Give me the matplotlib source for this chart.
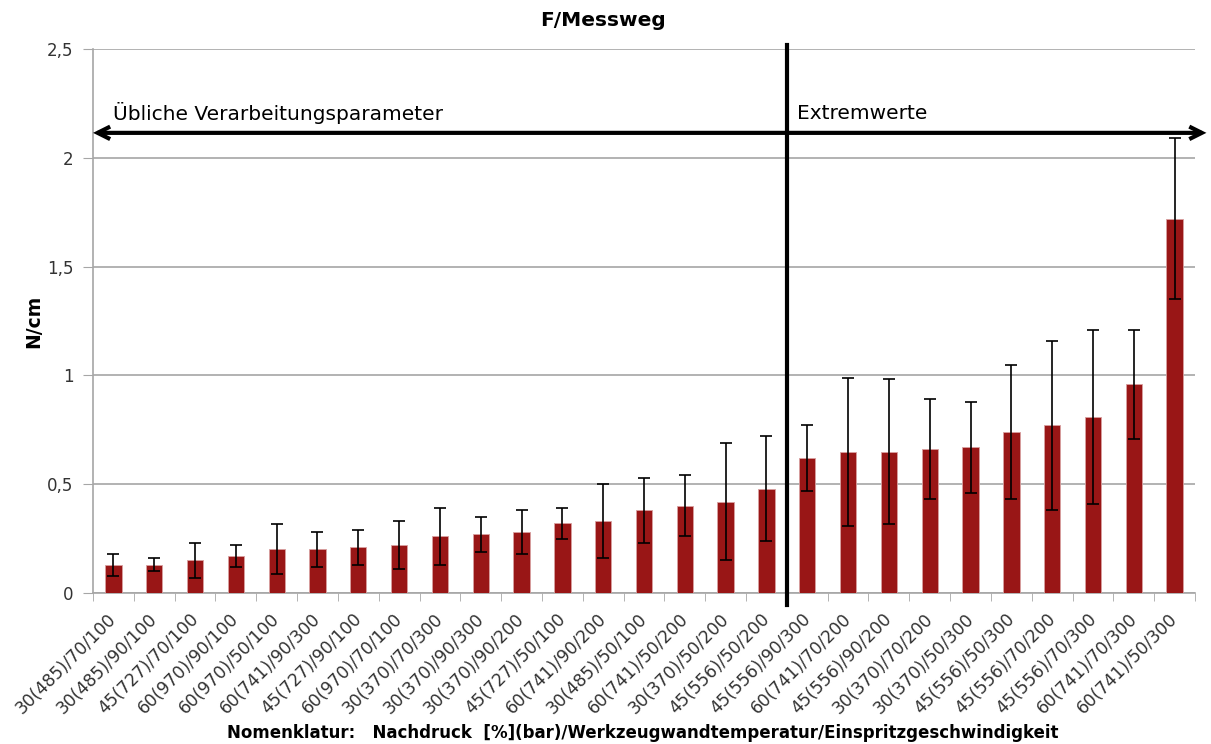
import numpy as np
import matplotlib
matplotlib.use("Agg")
import matplotlib.pyplot as plt
import matplotlib.transforms as mtransforms

labels = [
    "30(485)/70/100", "30(485)/90/100", "45(727)/70/100", "60(970)/90/100",
    "60(970)/50/100", "60(741)/90/300", "45(727)/90/100", "60(970)/70/100",
    "30(370)/70/300", "30(370)/90/300", "30(370)/90/200", "45(727)/50/100",
    "60(741)/90/200", "30(485)/50/100", "60(741)/50/200", "30(370)/50/200",
    "45(556)/50/200", "45(556)/90/300", "60(741)/70/200", "45(556)/90/200",
    "30(370)/70/200", "30(370)/50/300", "45(556)/50/300", "45(556)/70/200",
    "45(556)/70/300", "60(741)/70/300", "60(741)/50/300",
]
values = [0.13, 0.13, 0.15, 0.17, 0.20, 0.20, 0.21, 0.22, 0.26, 0.27,
          0.28, 0.32, 0.33, 0.38, 0.40, 0.42, 0.48, 0.62, 0.65, 0.65,
          0.66, 0.67, 0.74, 0.77, 0.81, 0.96, 1.72]
errors = [0.05, 0.03, 0.08, 0.05, 0.115, 0.08, 0.08, 0.11, 0.13, 0.08,
          0.10, 0.07, 0.17, 0.15, 0.14, 0.27, 0.24, 0.15, 0.34, 0.335,
          0.23, 0.21, 0.31, 0.39, 0.40, 0.25, 0.37]
n_normal = 17  # Übliche Verarbeitungsparameter, der Rest sind Extremwerte

plt.rcParams["font.family"] = ["DejaVu Sans"]
fig = plt.figure(figsize=(12.11, 7.44), dpi=100)
ax = fig.add_axes([0.0768, 0.203, 0.91, 0.731])

x = np.arange(len(values))
ax.bar(x, values, width=0.4, color="#991616", edgecolor="#d9a0a0", linewidth=0.6, zorder=3)
ax.errorbar(x, values, yerr=errors, fmt="none", ecolor="black", elinewidth=1.2,
            capsize=4.5, capthick=1.2, zorder=4)

ax.set_xlim(-0.5, len(values) - 0.5)
ax.set_ylim(0, 2.5)
ax.set_yticks([0, 0.5, 1, 1.5, 2, 2.5])
ax.set_yticklabels(["0", "0,5", "1", "1,5", "2", "2,5"], fontsize=12, color="#333333")
ax.yaxis.grid(True, color="#a6a6a6", linewidth=1.2, zorder=0)
ax.tick_params(axis="y", length=7, color="#a6a6a6", pad=7)

ax.set_xticks(x)
ax.set_xticklabels(labels, rotation=45, ha="right", rotation_mode="anchor",
                   fontsize=12.3, color="#333333")
ax.set_xticks(np.arange(len(values) + 1) - 0.5, minor=True)
ax.tick_params(axis="x", which="major", length=0, pad=12)
ax.tick_params(axis="x", which="minor", length=6, color="#a6a6a6")
shift = mtransforms.ScaledTranslation(-6 / 100, 0, fig.dpi_scale_trans)
for lbl in ax.get_xticklabels():
    lbl.set_transform(lbl.get_transform() + shift)

for s in ["top", "right"]:
    ax.spines[s].set_visible(False)
for s in ["left", "bottom"]:
    ax.spines[s].set_color("#a6a6a6")
    ax.spines[s].set_linewidth(1.2)

# Trennlinie und Bereichspfeil
split = n_normal - 0.5
ax.plot([split, split], [-0.055, 2.52], color="black", lw=3, clip_on=False, zorder=5)
ax.annotate("", xy=(-0.5, 2.115), xytext=(len(values) - 0.22, 2.115),
            arrowprops=dict(arrowstyle="<->,head_length=0.9,head_width=0.45",
                            color="black", lw=3, shrinkA=0, shrinkB=0,
                            joinstyle="miter", capstyle="butt"),
            annotation_clip=False, zorder=5)
ax.text(0.0, 2.205, "Übliche Verarbeitungsparameter", fontsize=14.5, va="center", ha="left")
ax.text(split + 0.25, 2.205, "Extremwerte", fontsize=14.5, va="center", ha="left")

fig.text(0.498, 0.973, "F/Messweg", fontsize=14.5, fontweight="bold", ha="center", va="center")
fig.text(0.028, 0.568, "N/cm", fontsize=13.5, fontweight="bold", rotation=90, ha="center", va="center")
fig.text(0.531, 0.015, "Nomenklatur:   Nachdruck  [%](bar)/Werkzeugwandtemperatur/Einspritzgeschwindigkeit",
         fontsize=12, fontweight="bold", ha="center", va="center")

fig.savefig("out.png", dpi=100)
